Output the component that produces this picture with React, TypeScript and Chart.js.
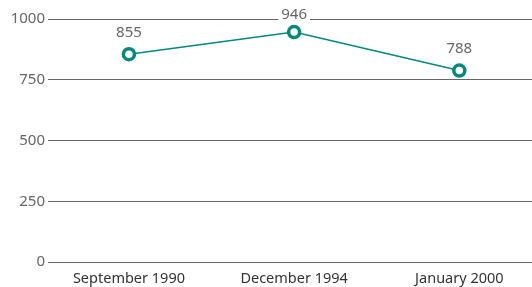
import React, { useEffect, useRef } from "react";
import { Chart, registerables } from "chart.js";

Chart.register(...registerables);

const categories = ["September 1990", "December 1994", "January 2000"];
const values = [855, 946, 788];
const yTicks = [0, 250, 500, 750, 1000];

const TEAL = "#00897f";

const labelPlugin = {
  id: "pointLabels",
  afterDatasetsDraw(chart: any) {
    const ctx = chart.ctx;
    const meta = chart.getDatasetMeta(0);
    ctx.save();
    ctx.font = "15px 'Noto Sans', sans-serif";
    ctx.textAlign = "center";
    ctx.textBaseline = "middle";
    meta.data.forEach((pt: any, i: number) => {
      const text = String(values[i]);
      const y = Math.max(pt.y - 22, chart.chartArea.top - 4);
      const w = ctx.measureText(text).width;
      ctx.fillStyle = "#ffffff";
      ctx.fillRect(pt.x - w / 2 - 3, y - 7, w + 6, 14);
      ctx.fillStyle = "#666666";
      ctx.fillText(text, pt.x, y);
    });
    ctx.restore();
  },
};

export default function App() {
  const ref = useRef<HTMLCanvasElement>(null);
  useEffect(() => {
    if (!ref.current) return;
    const chart = new Chart(ref.current, {
      type: "line",
      data: {
        datasets: [
          {
            data: values.map((v, i) => ({ x: i, y: v })),
            borderColor: TEAL,
            borderWidth: 1.5,
            pointRadius: 5.5,
            pointBorderWidth: 3.5,
            pointBackgroundColor: "#ffffff",
            pointBorderColor: TEAL,
            tension: 0,
            clip: false,
          },
        ],
      },
      options: {
        animation: false,
        responsive: false,
        layout: { autoPadding: false, padding: { top: 19, right: 0, left: 0, bottom: 0 } },
        plugins: { legend: { display: false }, tooltip: { enabled: false } },
        scales: {
          x: {
            type: "linear",
            min: -0.49,
            max: 2.44,
            afterBuildTicks: (s: any) => {
              s.ticks = categories.map((_, i) => ({ value: i }));
            },
            afterFit: (s: any) => {
              s.height = 25;
              s.paddingLeft = 0;
              s.paddingRight = 0;
            },
            grid: { display: false },
            border: { display: false },
            ticks: {
              callback: (v: any) => categories[v as number] ?? "",
              color: "#333333",
              font: { family: "'Noto Sans', sans-serif", size: 14.5 },
              padding: 0,
              maxRotation: 0,
            },
          },
          y: {
            min: 0,
            max: 1000,
            afterBuildTicks: (s: any) => {
              s.ticks = yTicks.map((v) => ({ value: v }));
            },
            afterFit: (s: any) => {
              s.width = 48;
              s.paddingTop = 0;
              s.paddingBottom = 0;
            },
            grid: { color: "#666666", lineWidth: 1, tickLength: 0 },
            border: { display: false },
            ticks: {
              callback: (v: any) => String(v),
              color: "#666666",
              font: { family: "'Noto Sans', sans-serif", size: 15 },
              padding: 3,
            },
          },
        },
      },
      plugins: [labelPlugin],
    });
    return () => chart.destroy();
  }, []);
  return (
    <div style={{ position: "fixed", left: 0, top: 0, width: 532, height: 287 }}>
      <canvas ref={ref} width={532} height={287} style={{ display: "block", width: 532, height: 287 }} />
    </div>
  );
}
